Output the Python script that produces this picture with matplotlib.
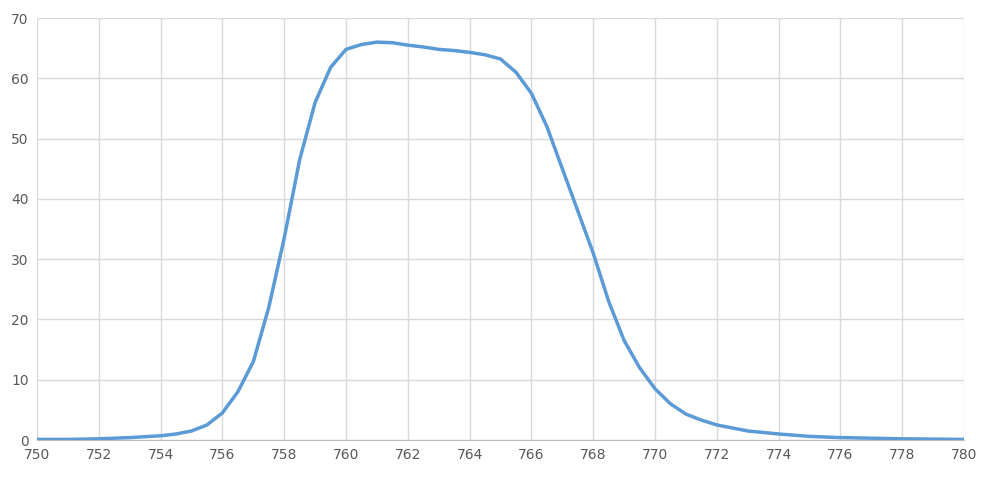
import matplotlib
matplotlib.use("Agg")
import matplotlib.pyplot as plt
from matplotlib.ticker import MultipleLocator

wavelength = [750, 751, 752, 753, 754, 754.5, 755, 755.5, 756, 756.5, 757, 757.5,
              758, 758.5, 759, 759.5, 760, 760.5, 761, 761.5, 762, 762.5, 763,
              763.5, 764, 764.5, 765, 765.5, 766, 766.5, 767, 767.5, 768, 768.5,
              769, 769.5, 770, 770.5, 771, 771.5, 772, 773, 774, 775, 776, 777,
              778, 779, 780]
transmission = [0.1, 0.1, 0.2, 0.4, 0.7, 1.0, 1.5, 2.5, 4.5, 8.0, 13.0, 22.0,
                33.5, 46.5, 56.0, 61.8, 64.8, 65.6, 66.0, 65.9, 65.5, 65.2, 64.8,
                64.6, 64.3, 63.9, 63.2, 61.0, 57.5, 52.0, 45.0, 38.0, 31.0, 23.0,
                16.5, 12.0, 8.5, 6.0, 4.3, 3.3, 2.5, 1.5, 1.0, 0.6, 0.4, 0.3,
                0.2, 0.15, 0.1]
x_ticks = list(range(750, 781, 2))
y_ticks = list(range(0, 71, 10))

fig = plt.figure(figsize=(9.82, 4.79), dpi=100)
ax = fig.add_axes([0.0377, 0.0814, 0.944, 0.881])
ax.plot(wavelength, transmission, color="#5b9bd5", lw=2.5, solid_joinstyle="round")
ax.set_xlim(750, 780)
ax.set_ylim(0, 70)
ax.set_xticks(x_ticks)
ax.set_yticks(y_ticks)
ax.grid(True, color="#d9d9d9", lw=1)
ax.set_axisbelow(True)
for s in ["top", "right", "left"]:
    ax.spines[s].set_visible(False)
ax.spines["bottom"].set_color("#bfbfbf")
ax.tick_params(length=0, colors="#595959", labelsize=10, pad=6)
fig.savefig("out.png", dpi=100)
